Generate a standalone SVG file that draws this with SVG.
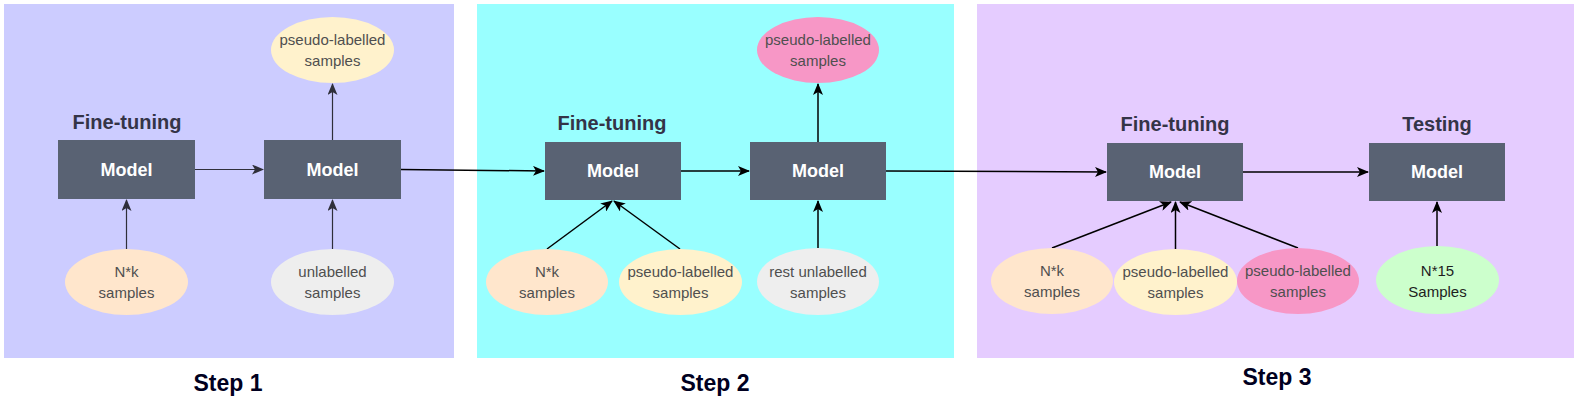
<svg xmlns="http://www.w3.org/2000/svg" width="1577" height="418" viewBox="0 0 1577 418">
<style>
.model{fill:#596273;}
.mt{font-family:"Liberation Sans",Arial,sans-serif;font-weight:bold;font-size:18px;fill:#ffffff;text-anchor:middle;}
.ht{font-family:"Liberation Sans",Arial,sans-serif;font-weight:bold;font-size:20px;fill:#343447;text-anchor:middle;}
.et{font-family:"Liberation Sans",Arial,sans-serif;font-size:15px;fill:#4f4f4f;text-anchor:middle;}
.st{font-family:"Liberation Sans",Arial,sans-serif;font-weight:bold;font-size:23px;fill:#000020;text-anchor:middle;}
.c{stroke:#000000;stroke-width:1.5;fill:none;marker-end:url(#ah);}
.c1{stroke:#2f2f3a;stroke-width:1.2;fill:none;marker-end:url(#ah1);}
</style>
<defs>
<marker id="ah" viewBox="0 0 12 10" refX="11" refY="5" markerWidth="12" markerHeight="10" markerUnits="userSpaceOnUse" orient="auto">
<path d="M0,0 L12,5 L0,10 L3,5 z" fill="#000000"/>
</marker>
<marker id="ah1" viewBox="0 0 12 10" refX="11" refY="5" markerWidth="12" markerHeight="10" markerUnits="userSpaceOnUse" orient="auto">
<path d="M0,0 L12,5 L0,10 L3,5 z" fill="#2f2f3a"/>
</marker>
</defs>
<rect width="1577" height="418" fill="#ffffff"/>

<g id="panel1"><rect x="4" y="4" width="450" height="354" fill="#ccccff"/></g>
<g id="panel2"><rect x="477" y="4" width="477" height="354" fill="#99ffff"/></g>
<g id="panel3"><rect x="977" y="4" width="597" height="354" fill="#e5ccff"/></g>

<g id="connectors">
<line class="c1" x1="195" y1="169.5" x2="263" y2="169.5"/>
<line class="c1" x1="332.5" y1="140" x2="332.5" y2="84"/>
<line class="c1" x1="126.5" y1="249" x2="126.5" y2="200"/>
<line class="c1" x1="332.5" y1="249" x2="332.5" y2="200"/>
<line class="c" x1="401" y1="169.5" x2="544" y2="171"/>
<line class="c" x1="681" y1="171" x2="749" y2="171"/>
<line class="c" x1="818" y1="142" x2="818" y2="84"/>
<line class="c" x1="547" y1="249" x2="612" y2="201"/>
<line class="c" x1="680" y1="249" x2="614" y2="201"/>
<line class="c" x1="818" y1="248" x2="818" y2="201"/>
<line class="c" x1="886" y1="171" x2="1106" y2="172"/>
<line class="c" x1="1243" y1="172" x2="1368" y2="172"/>
<line class="c" x1="1052" y1="248" x2="1171" y2="202"/>
<line class="c" x1="1175.5" y1="250" x2="1175.5" y2="202"/>
<line class="c" x1="1298" y1="248" x2="1180" y2="202"/>
<line class="c" x1="1437" y1="246" x2="1437" y2="202"/>
</g>

<g id="step1-title"><text class="ht" x="127" y="129">Fine-tuning</text></g>
<g id="step1-model1"><rect class="model" x="58" y="140" width="137" height="59"/><text class="mt" x="126.5" y="176">Model</text></g>
<g id="step1-model2"><rect class="model" x="264" y="140" width="137" height="59"/><text class="mt" x="332.5" y="176">Model</text></g>
<g id="step1-pseudo"><ellipse cx="332.5" cy="50" rx="61.5" ry="33" fill="#fff2cc"/><text class="et" x="332.5" y="45">pseudo-labelled</text><text class="et" x="332.5" y="66">samples</text></g>
<g id="step1-nk"><ellipse cx="126.5" cy="282" rx="61.5" ry="33" fill="#ffe6cc"/><text class="et" x="126.5" y="277">N*k</text><text class="et" x="126.5" y="298">samples</text></g>
<g id="step1-unlab"><ellipse cx="332.5" cy="282" rx="61.5" ry="33" fill="#eeeeee"/><text class="et" x="332.5" y="277">unlabelled</text><text class="et" x="332.5" y="298">samples</text></g>
<g id="step1-label"><text class="st" x="228" y="391">Step 1</text></g>

<g id="step2-title"><text class="ht" x="612" y="130">Fine-tuning</text></g>
<g id="step2-model1"><rect class="model" x="545" y="142" width="136" height="58"/><text class="mt" x="613" y="177">Model</text></g>
<g id="step2-model2"><rect class="model" x="750" y="142" width="136" height="58"/><text class="mt" x="818" y="177">Model</text></g>
<g id="step2-pseudo-out"><ellipse cx="818" cy="50" rx="61" ry="33" fill="#f797c6"/><text class="et" x="818" y="45">pseudo-labelled</text><text class="et" x="818" y="66">samples</text></g>
<g id="step2-nk"><ellipse cx="547" cy="282" rx="61" ry="33" fill="#ffe6cc"/><text class="et" x="547" y="277">N*k</text><text class="et" x="547" y="298">samples</text></g>
<g id="step2-pseudo-in"><ellipse cx="680.5" cy="282" rx="61.5" ry="33" fill="#fff2cc"/><text class="et" x="680.5" y="277">pseudo-labelled</text><text class="et" x="680.5" y="298">samples</text></g>
<g id="step2-rest"><ellipse cx="818" cy="281.5" rx="61" ry="33.5" fill="#eeeeee"/><text class="et" x="818" y="277">rest unlabelled</text><text class="et" x="818" y="298">samples</text></g>
<g id="step2-label"><text class="st" x="715" y="391">Step 2</text></g>

<g id="step3-title"><text class="ht" x="1175" y="131">Fine-tuning</text></g>
<g id="step3-test-title"><text class="ht" x="1437" y="131">Testing</text></g>
<g id="step3-model1"><rect class="model" x="1107" y="143" width="136" height="58"/><text class="mt" x="1175" y="178">Model</text></g>
<g id="step3-model2"><rect class="model" x="1369" y="143" width="136" height="58"/><text class="mt" x="1437" y="178">Model</text></g>
<g id="step3-nk"><ellipse cx="1052" cy="281" rx="61" ry="33" fill="#ffe6cc"/><text class="et" x="1052" y="276">N*k</text><text class="et" x="1052" y="297">samples</text></g>
<g id="step3-pseudo1"><ellipse cx="1175.5" cy="282" rx="61.5" ry="33" fill="#fff2cc"/><text class="et" x="1175.5" y="277">pseudo-labelled</text><text class="et" x="1175.5" y="298">samples</text></g>
<g id="step3-pseudo2"><ellipse cx="1298" cy="281" rx="61" ry="33" fill="#f797c6"/><text class="et" x="1298" y="276">pseudo-labelled</text><text class="et" x="1298" y="297">samples</text></g>
<g id="step3-n15"><ellipse cx="1437.5" cy="280" rx="61.5" ry="34" fill="#ccffcc"/><text class="et" x="1437.5" y="276" style="fill:#1e1e1e">N*15</text><text class="et" x="1437.5" y="297" style="fill:#1e1e1e">Samples</text></g>
<g id="step3-label"><text class="st" x="1277" y="385">Step 3</text></g>
</svg>
